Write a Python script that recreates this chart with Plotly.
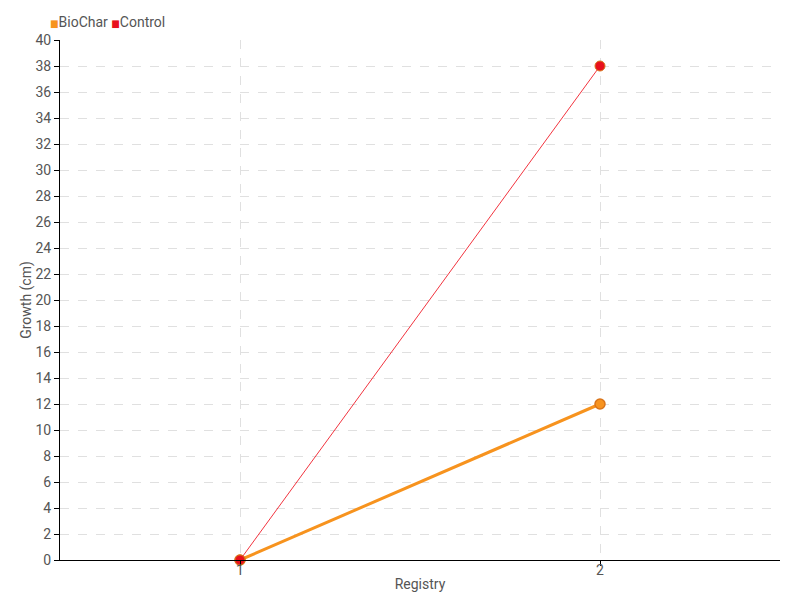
import plotly.graph_objects as go

categories = [1, 2]
biochar = [0, 12]
control = [0, 38]
series_names = ["BioChar", "Control"]
series_colors = ["#f7931e", "#e8101d"]

fig = go.Figure()
fig.add_trace(go.Scatter(x=categories, y=biochar, mode="lines+markers", name=series_names[0],
                         line=dict(color="#f7931e", width=3),
                         marker=dict(size=10, color="#f7931e", line=dict(color="#d9741a", width=1.5)),
                         showlegend=False, cliponaxis=False))
fig.add_trace(go.Scatter(x=categories, y=control, mode="lines+markers", name=series_names[1],
                         line=dict(color="#f2343f", width=1),
                         marker=dict(size=10, color="#e8101d", line=dict(color="#d9741a", width=1)),
                         showlegend=False, cliponaxis=False))

font_family = "Roboto, DejaVu Sans Condensed, sans-serif"
legend_text = "&nbsp;".join(
    f"<span style='color:{c};font-size:10px'>■</span>{n}" for n, c in zip(series_names, series_colors)
)
fig.add_annotation(text=legend_text, xref="paper", yref="paper", x=0, y=1.0,
                   xanchor="left", yanchor="bottom", yshift=8, xshift=-12, showarrow=False,
                   font=dict(size=14, color="#555555", family=font_family))

fig.update_layout(
    width=792, height=592,
    paper_bgcolor="white", plot_bgcolor="white",
    margin=dict(l=52, r=20, t=32, b=40),
    font=dict(family=font_family, size=14, color="#555555"),
    showlegend=False,
)
fig.update_xaxes(
    range=[0.5, 2.5], tickmode="array", tickvals=categories, ticktext=[str(c) for c in categories],
    showline=True, linecolor="black", linewidth=1,
    ticks="outside", ticklen=5, tickcolor="black",
    showgrid=True, gridcolor="#e0e0e0", griddash="dash", gridwidth=1,
    zeroline=False, ticklabelstandoff=-8, automargin=False,
    title=dict(text="Registry", standoff=2, font=dict(size=14, color="#555555")),
    tickfont=dict(size=14, color="#555555"),
)
fig.update_yaxes(
    range=[0, 40], dtick=2, tick0=0,
    showline=True, linecolor="black", linewidth=1,
    ticks="outside", ticklen=5, tickcolor="black",
    showgrid=True, gridcolor="#e0e0e0", griddash="dash", gridwidth=1,
    zeroline=False, automargin=False,
    title=dict(text="Growth (cm)", standoff=0, font=dict(size=14, color="#555555")),
    tickfont=dict(size=14, color="#555555"),
)

fig.write_html("out.html")
